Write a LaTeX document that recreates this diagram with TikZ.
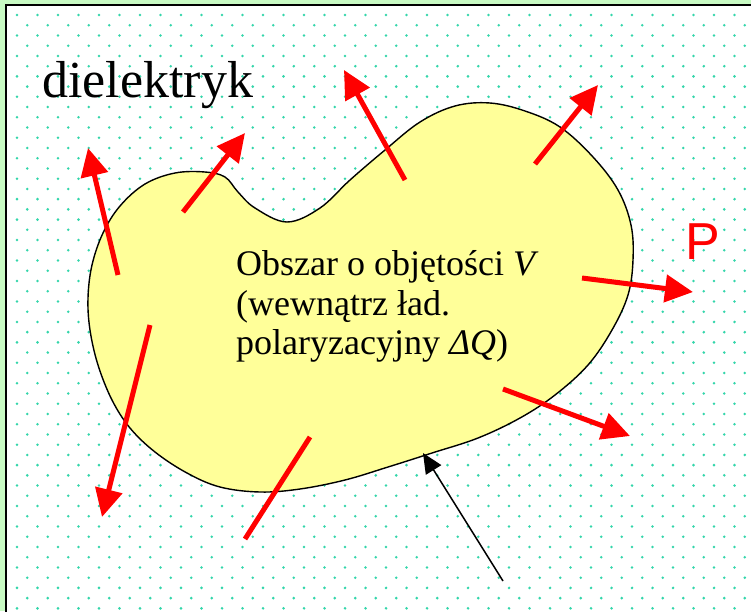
\documentclass[tikz,border=0pt]{standalone}
\usepackage{fontspec}
\setmainfont{Liberation Serif}
\newfontfamily\arialfont{Liberation Sans}
\usetikzlibrary{arrows.meta}
\definecolor{bggreen}{RGB}{200,250,195}
\definecolor{dotteal}{RGB}{51,214,170}
\definecolor{blobyellow}{RGB}{255,255,153}
\begin{document}
\begin{tikzpicture}[x=1pt,y=-1pt,
  polarrow/.style={draw=red, line width=5pt, -{Triangle[length=28pt,width=27pt]}},
  polline/.style={draw=red, line width=5pt},
  pointer/.style={draw=black, line width=1.5pt, -{Triangle[length=20pt,width=18pt]}},
  bodytext/.style={anchor=base west, inner sep=0pt, font=\fontsize{36}{39}\selectfont},
  dot/.style={fill=dotteal}]
\useasboundingbox (0,0) rectangle (751,611);
\clip (0,0) rectangle (751,611);
\fill[bggreen] (0,0) rectangle (751,611);
\draw[fill=white, line width=2pt] (6,4.5) rectangle (770,630);
% dotted pattern
\foreach \r in {0,...,59}{
  \pgfmathsetmacro\yy{15+10.23*\r}
  \pgfmathsetmacro\xo{17+10.25*mod(\r,2)}
  \foreach \c in {0,...,36}{
    \fill[dot] ({\xo+20.5*\c},\yy) circle (1.4pt);
  }
}
% region
\draw[fill=blobyellow, line width=1.4pt] plot[smooth cycle, tension=0.6] coordinates {
  (88,298) (92,265) (103,233) (120,206) (145,184) (175,173) (205,172)
  (225,177) (238,192) (255,208) (287,222) (320,208) (350,180) (385,150)
  (420,122) (455,106) (490,103) (525,111) (560,127) (593,157) (618,190)
  (631,225) (633,260) (628,295) (612,330) (588,365) (555,395) (520,418)
  (478,438) (432,453) (388,467) (345,480) (300,489) (260,492) (220,487)
  (187,473) (155,452) (130,428) (112,400) (98,365) (90,330)};
% texts
\node[anchor=base west, inner sep=0pt, font=\fontsize{52}{60}\selectfont] (dielektryk) at (42,97) {dielektryk};
\node[bodytext] (line1) at (236,275) {Obszar o objętości \textit{V}};
\node[bodytext] (line2) at (236,315) {(wewnątrz ład.};
\node[bodytext] (line3) at (236,354) {polaryzacyjny \textit{ΔQ})};
\node[anchor=base west, inner sep=0pt, text=red, font=\arialfont\fontsize{52}{60}\selectfont] (plabel) at (685,259) {P};
% polarization arrows
\coordinate (a1s) at (118,275); \coordinate (a1e) at (88,148);
\coordinate (a2s) at (183,212); \coordinate (a2e) at (245,133);
\coordinate (a3s) at (405,180); \coordinate (a3e) at (344,70);
\coordinate (a4s) at (535,164); \coordinate (a4e) at (598,85);
\coordinate (a5s) at (582,278); \coordinate (a5e) at (693,292);
\coordinate (a6s) at (150,325); \coordinate (a6e) at (102,517);
\coordinate (a7s) at (245,539); \coordinate (a7e) at (310,437);
\coordinate (a8s) at (503,389); \coordinate (a8e) at (630,436);
\draw[polarrow] (a1s) -- (a1e);
\draw[polarrow] (a2s) -- (a2e);
\draw[polarrow] (a3s) -- (a3e);
\draw[polarrow] (a4s) -- (a4e);
\draw[polarrow] (a5s) -- (a5e);
\draw[polarrow] (a6s) -- (a6e);
\draw[polline] (a7s) -- (a7e);
\draw[polarrow] (a8s) -- (a8e);
% pointer
\coordinate (ps) at (503,581); \coordinate (pe) at (423,453);
\draw[pointer] (ps) -- (pe);
\end{tikzpicture}
\end{document}
